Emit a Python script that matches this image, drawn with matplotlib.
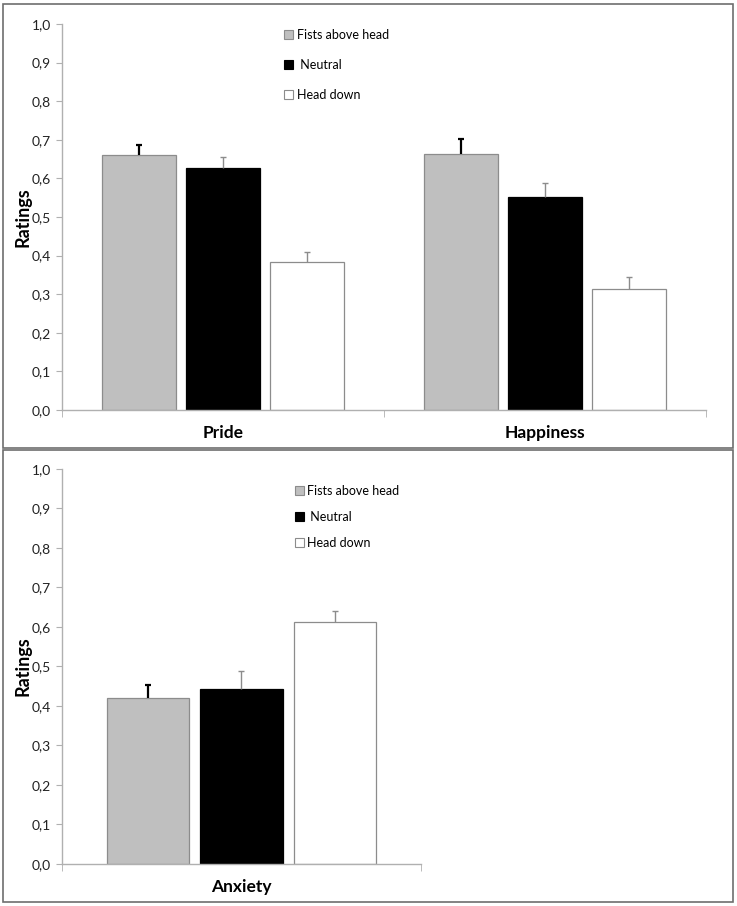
import numpy as np
import matplotlib.pyplot as plt
from matplotlib.patches import Rectangle, Patch

plt.rcParams['font.family'] = ['Lato', 'DejaVu Sans']

# data
conditions = ["Fists above head", " Neutral", "Head down"]
top_cats = ["Pride", "Happiness"]
top_means = [[0.660, 0.662],   # fists above head
             [0.626, 0.552],   # neutral
             [0.384, 0.313]]   # head down
top_err = [[0.026, 0.039],
           [0.029, 0.036],
           [0.026, 0.032]]
bot_cats = ["Anxiety"]
bot_means = [[0.419], [0.443], [0.612]]
bot_err = [[0.034], [0.044], [0.027]]
yticks = np.arange(0, 1.01, 0.1)
ytick_labels = [("%.1f" % v).replace(".", ",") for v in yticks]

fills = ["#bfbfbf", "#000000", "#ffffff"]
edges = ["#8c8c8c", "#000000", "#8c8c8c"]
err_col = ["#000000", "#8c8c8c", "#8c8c8c"]
err_lw = [1.6, 1.0, 1.0]
axis_col = "#b0b0b0"

W, H = 737, 906
fig = plt.figure(figsize=(W / 100, H / 100), dpi=100)


def panel(rect, cats, means, errs, leg_anchor, leg_space):
    ax = fig.add_axes(rect)
    x = np.arange(len(cats))
    for i in range(3):
        ax.bar(x + (i - 1) * 0.26, means[i], width=0.23, color=fills[i],
               edgecolor=edges[i], linewidth=0.9, zorder=2)
        eb = ax.errorbar(x + (i - 1) * 0.26, means[i],
                         yerr=[np.zeros(len(cats)), errs[i]], fmt="none",
                         ecolor=err_col[i], elinewidth=err_lw[i], capsize=2.5,
                         capthick=err_lw[i], zorder=3)
        eb[1][0].set_visible(False)  # no cap at the bar top
    ax.set_xlim(-0.5, len(cats) - 0.5)
    ax.set_ylim(0, 1.0)
    ax.set_yticks(yticks)
    ax.set_yticklabels(ytick_labels, fontsize=10, color="#222222")
    ax.tick_params(axis="y", length=4, color=axis_col, pad=4)
    ax.set_xticks(x)
    ax.set_xticklabels(cats, fontsize=12.5, fontweight="bold")
    ax.tick_params(axis="x", which="major", length=0, pad=11)
    ax.set_xticks(np.arange(len(cats) + 1) - 0.5, minor=True)
    ax.tick_params(axis="x", which="minor", length=5, color=axis_col)
    for s in ["top", "right"]:
        ax.spines[s].set_visible(False)
    for s in ["left", "bottom"]:
        ax.spines[s].set_color(axis_col)
        ax.spines[s].set_linewidth(1.0)
    ax.set_ylabel("Ratings", fontsize=13, fontweight="bold", labelpad=0)
    handles = [Patch(facecolor=fills[i], edgecolor=edges[i], linewidth=0.8)
               for i in range(3)]
    ax.legend(handles, conditions, loc="upper left", bbox_to_anchor=leg_anchor,
              frameon=False, fontsize=9, handlelength=0.7, handleheight=0.7,
              handletextpad=0.3, labelspacing=leg_space, borderpad=0,
              borderaxespad=0)
    return ax


panel([62 / W, (H - 410) / H, 644 / W, 386 / H], top_cats, top_means, top_err,
      (0.345, 0.987), 1.42)
panel([62 / W, (H - 863.7) / H, 359 / W, 394.7 / H], bot_cats, bot_means, bot_err,
      (0.649, 0.960), 1.13)

# panel frames
fig.patches.append(Rectangle((3 / W, (H - 448) / H), 730 / W, 444 / H,
                             transform=fig.transFigure, fill=False,
                             edgecolor="#6e6e6e", linewidth=1.2))
fig.patches.append(Rectangle((3 / W, (H - 902) / H), 730 / W, 452 / H,
                             transform=fig.transFigure, fill=False,
                             edgecolor="#6e6e6e", linewidth=1.2))

fig.savefig("out.png", dpi=100)
